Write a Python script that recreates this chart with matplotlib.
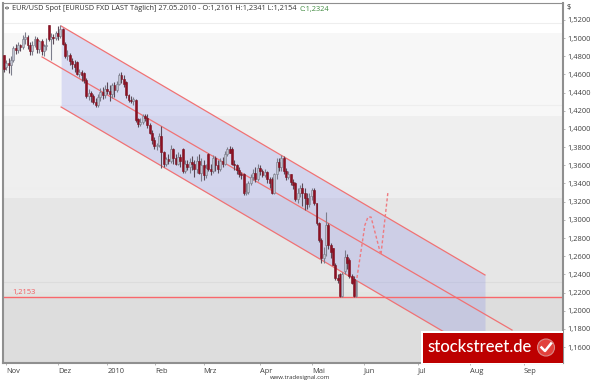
import matplotlib
matplotlib.use("Agg")
import matplotlib.pyplot as plt
from matplotlib.patches import Rectangle, Circle, Ellipse

opens = [1.481,1.468,1.473,1.470,1.476,1.489,1.487,1.492,1.490,1.499,
         1.501,1.493,1.486,1.493,1.499,1.488,1.497,1.486,1.491,1.514,
         1.499,1.501,1.500,1.506,1.502,1.510,1.494,1.480,1.482,1.475,
         1.472,1.474,1.461,1.463,1.462,1.454,1.436,1.440,1.436,1.430,
         1.426,1.435,1.441,1.437,1.444,1.442,1.438,1.448,1.443,1.449,
         1.459,1.455,1.452,1.437,1.432,1.431,1.432,1.411,1.405,1.408,
         1.414,1.412,1.404,1.396,1.388,1.381,1.382,1.392,1.375,1.362,
         1.367,1.365,1.378,1.368,1.362,1.369,1.378,1.354,1.362,1.358,
         1.364,1.361,1.356,1.365,1.352,1.360,1.349,1.372,1.356,1.354,
         1.368,1.360,1.356,1.365,1.362,1.372,1.378,1.378,1.362,1.360,
         1.355,1.351,1.350,1.329,1.331,1.340,1.347,1.352,1.345,1.357,
         1.354,1.349,1.353,1.345,1.345,1.330,1.350,1.364,1.358,1.368,
         1.354,1.347,1.350,1.342,1.340,1.323,1.329,1.335,1.329,1.324,
         1.317,1.326,1.333,1.318,1.296,1.278,1.258,1.272,1.294,1.272,
         1.269,1.250,1.236,1.240,1.216,1.244,1.259,1.256,1.238,1.235,
         1.2161]
highs = [1.482,1.476,1.478,1.480,1.491,1.494,1.496,1.494,1.503,1.507,
         1.504,1.496,1.497,1.502,1.501,1.498,1.499,1.494,1.500,1.515,
         1.506,1.505,1.508,1.513,1.514,1.511,1.496,1.487,1.484,1.478,
         1.476,1.475,1.466,1.465,1.463,1.456,1.444,1.442,1.438,1.434,
         1.438,1.445,1.446,1.448,1.452,1.448,1.451,1.452,1.453,1.462,
         1.463,1.459,1.453,1.439,1.436,1.435,1.433,1.412,1.412,1.417,
         1.417,1.416,1.407,1.399,1.391,1.385,1.396,1.403,1.376,1.369,
         1.372,1.382,1.379,1.372,1.375,1.372,1.379,1.366,1.366,1.368,
         1.370,1.366,1.370,1.372,1.368,1.366,1.361,1.374,1.362,1.371,
         1.370,1.366,1.368,1.369,1.376,1.380,1.381,1.380,1.366,1.362,
         1.358,1.353,1.352,1.340,1.343,1.351,1.356,1.358,1.361,1.360,
         1.356,1.356,1.354,1.347,1.347,1.352,1.368,1.368,1.371,1.370,
         1.357,1.354,1.351,1.345,1.342,1.335,1.338,1.340,1.335,1.330,
         1.330,1.335,1.335,1.319,1.298,1.280,1.270,1.309,1.296,1.274,
         1.269,1.252,1.240,1.242,1.243,1.267,1.262,1.258,1.240,1.238,
         1.2341]
lows = [1.463,1.465,1.462,1.459,1.474,1.483,1.484,1.486,1.488,1.494,
        1.488,1.481,1.482,1.490,1.484,1.484,1.482,1.480,1.487,1.497,
        1.476,1.494,1.498,1.498,1.500,1.492,1.478,1.476,1.470,1.466,
        1.463,1.459,1.457,1.453,1.451,1.434,1.432,1.430,1.427,1.424,
        1.424,1.431,1.433,1.434,1.438,1.431,1.434,1.435,1.441,1.448,
        1.451,1.446,1.434,1.430,1.429,1.426,1.408,1.402,1.403,1.405,
        1.409,1.401,1.394,1.384,1.378,1.377,1.380,1.357,1.358,1.359,
        1.361,1.363,1.361,1.360,1.360,1.358,1.352,1.352,1.355,1.352,
        1.355,1.347,1.352,1.350,1.343,1.344,1.346,1.354,1.349,1.352,
        1.354,1.352,1.354,1.358,1.360,1.370,1.374,1.360,1.355,1.350,
        1.347,1.345,1.327,1.327,1.328,1.338,1.344,1.342,1.343,1.349,
        1.347,1.347,1.340,1.335,1.328,1.328,1.345,1.354,1.354,1.351,
        1.344,1.345,1.338,1.334,1.321,1.318,1.325,1.315,1.311,1.312,
        1.314,1.322,1.316,1.294,1.276,1.252,1.253,1.260,1.268,1.258,
        1.250,1.234,1.230,1.2153,1.2153,1.240,1.246,1.236,1.229,1.2154,
        1.2154]
closes = [1.466,1.473,1.470,1.476,1.489,1.487,1.492,1.490,1.499,1.501,
          1.493,1.486,1.493,1.499,1.488,1.497,1.486,1.491,1.493,1.499,
          1.501,1.500,1.506,1.502,1.510,1.494,1.480,1.482,1.475,1.472,
          1.468,1.461,1.463,1.459,1.454,1.436,1.440,1.436,1.430,1.426,
          1.435,1.441,1.437,1.444,1.442,1.438,1.448,1.443,1.449,1.459,
          1.455,1.449,1.437,1.432,1.431,1.433,1.410,1.405,1.408,1.414,
          1.412,1.404,1.396,1.388,1.381,1.382,1.392,1.375,1.362,1.367,
          1.365,1.378,1.368,1.362,1.369,1.365,1.354,1.362,1.358,1.364,
          1.361,1.356,1.365,1.352,1.360,1.349,1.357,1.356,1.354,1.368,
          1.360,1.356,1.365,1.362,1.372,1.378,1.374,1.362,1.360,1.355,
          1.351,1.349,1.329,1.331,1.340,1.347,1.352,1.345,1.357,1.354,
          1.349,1.353,1.345,1.340,1.330,1.350,1.364,1.358,1.368,1.354,
          1.347,1.350,1.342,1.338,1.323,1.329,1.335,1.329,1.324,1.317,
          1.326,1.333,1.318,1.296,1.278,1.258,1.262,1.294,1.272,1.265,
          1.250,1.236,1.234,1.216,1.240,1.259,1.252,1.238,1.231,1.2163,
          1.2324]

ytick_values = [1.16,1.18,1.20,1.22,1.24,1.26,1.28,1.30,1.32,1.34,1.36,1.38,
                1.40,1.42,1.44,1.46,1.48,1.50,1.52]
ytick_labels = ["1,1600","1,1800","1,2000","1,2200","1,2400","1,2600","1,2800",
                "1,3000","1,3200","1,3400","1,3600","1,3800","1,4000","1,4200",
                "1,4400","1,4600","1,4800","1,5000","1,5200"]
xtick_values = [0.9,23,44,64.3,85,109,131,153,176,198.3,221.3]
xtick_labels = ["Nov","Dez","2010","Feb","Mrz","Apr","Mai","Jun","Jul","Aug","Sep"]

band_edges = [1.5057,1.4144,1.3242,1.2208,1.2153]
band_colors = ["#f7f7f7","#efefef","#e6e6e6","#e2e5e2"]
band_lines = [1.5167,1.4265,1.3352,1.2318]
support = 1.2153

chan_x = [24.3,204.7]
chan_top = [1.5134,1.2393]
chan_bot = [1.4242,1.1501]
mid_x = [16.2,216.2]
mid_y = [1.4793,1.1787]
fc_x = [150.2,153.6,154.9,156.2,160.4,163.4]
fc_y = [1.2360,1.2943,1.3031,1.3031,1.2613,1.3306]

W, H = 595, 384
fig = plt.figure(figsize=(W/100, H/100), dpi=100, facecolor="white")
ax = fig.add_axes([3/W, 1-363/H, 560/W, 360/H])
ax.set_xlim(-0.43, 237.9)
ax.set_ylim(1.1424, 1.5387)
ax.set_facecolor("white")
FONT = "Open Sans"

# background bands
for top, bot, col in zip(band_edges[:-1], band_edges[1:], band_colors):
    ax.axhspan(bot, top, color=col, lw=0, zorder=0)
ax.axhspan(ax.get_ylim()[0], band_edges[-1], color="#dddddd", lw=0, zorder=0)
for v in band_lines:
    ax.axhline(v, color="#eeeeee" if v > 1.3 else "#dcdcdc", lw=0.8, zorder=0.5)

# channel
ax.fill_between(chan_x, chan_bot, chan_top, color="#8a90e8", alpha=0.27, lw=0, zorder=1)
RED = "#f07274"
ax.plot(chan_x, chan_top, color=RED, lw=0.9, zorder=2)
ax.plot(chan_x, chan_bot, color=RED, lw=0.9, zorder=2)
ax.plot(mid_x, mid_y, color=RED, lw=0.9, zorder=2)
ax.axhline(support, color="#f8686c", lw=1.0, zorder=2)
ax.plot(fc_x, fc_y, color="#ee7a80", lw=1.0, ls=(0, (2.2, 1.6)), zorder=2)

# candles
for i, (o, h, l, c) in enumerate(zip(opens, highs, lows, closes)):
    up = c >= o
    ax.vlines(i, l, h, color="#7c7e8c" if up else "#5a4a58", lw=0.8, zorder=3)
    ax.bar(i, abs(c-o), bottom=min(o, c), width=0.8,
           color="#c0c3d2" if up else "#8e1022",
           edgecolor="#787a86" if up else "#7c1020", lw=0.4, zorder=4)

# axes
for s in ax.spines.values():
    s.set_color("#8f8f8f")
ax.spines["left"].set_linewidth(1.5)
ax.spines["right"].set_linewidth(1.5)
ax.spines["bottom"].set_linewidth(1.5)
ax.spines["top"].set_linewidth(0.8)
ax.yaxis.tick_right()
ax.set_yticks(ytick_values, ytick_labels, fontsize=5.4, color="#404040", family=FONT)
ax.tick_params(axis="y", length=1.5, width=0.5, color="#999999", pad=1.6)
ax.set_xticks(xtick_values, xtick_labels, fontsize=5.4, color="#404040", family=FONT, ha="left")
ax.tick_params(axis="x", length=1.5, width=0.5, color="#999999", pad=1.8)

ax.text(3.5, support+0.0008, "1,2153", color="#f25a5e", fontsize=5.4, family=FONT,
        va="bottom", ha="left", zorder=5)

def fx(x): return x/W
def fy(y): return 1-y/H

fig.text(fx(12), fy(10.5), "EUR/USD Spot [EURUSD FXD LAST Täglich] 27.05.2010 - O:1,2161 H:1,2341 L:1,2154",
         fontsize=5.27, color="#333333", family=FONT, va="baseline", ha="left")
fig.text(fx(299), fy(10.5), "C:1,2324", fontsize=5.27, color="#3f8a3f", family=FONT, va="baseline", ha="left")
fig.add_artist(Circle((fx(7), fy(8)), 1.5/W, transform=fig.transFigure, fc="none", ec="#555555", lw=0.6))
fig.text(fx(567), fy(7), "$", fontsize=5.4, color="#333333", family=FONT, va="center", ha="left")
fig.text(fx(300), fy(378), "www.tradesignal.com", fontsize=4.3, color="#333333", family=FONT,
         va="center", ha="center")

# banner
fig.add_artist(Rectangle((fx(421), fy(364)), 142/W, 33/H, transform=fig.transFigure,
                         fc="white", ec="none", zorder=10))
fig.add_artist(Rectangle((fx(422.5), fy(363)), 140.5/W, 30/H, transform=fig.transFigure,
                         fc="#bd0000", ec="none", zorder=11))
fig.text(fx(427), fy(347.5), "stockstreet.de", fontsize=12, color="white", family="Lato",
         weight="medium", va="center", ha="left", zorder=12)
fig.add_artist(Ellipse((fx(546), fy(347.5)), 17/W, 17/H, transform=fig.transFigure,
                       fc="#e2413c", ec="#d98a88", lw=0.8, zorder=12))
fig.add_artist(plt.Line2D([fx(541.5), fx(545), fx(551)], [fy(347.5), fy(351), fy(343.5)],
                          transform=fig.transFigure, color="white", lw=1.8, zorder=13))

fig.savefig("out.png", dpi=100, facecolor="white")
